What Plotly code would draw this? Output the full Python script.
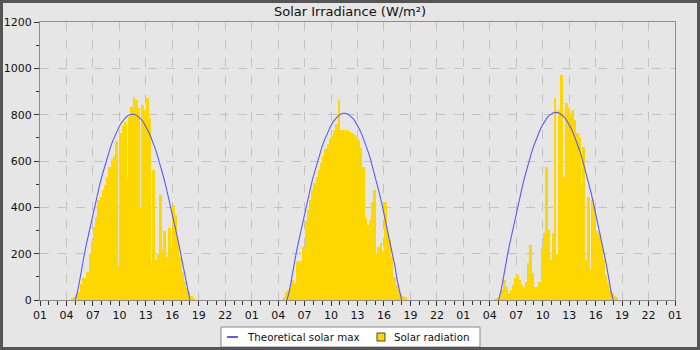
import pandas as pd
import plotly.graph_objects as go

# ---- data ----
days = ["2023-06-20", "2023-06-21", "2023-06-22"]
bar_start = "04:30"      # first 15-min bin of each day
theory_start = "05:00"   # first point of theoretical curve each day
step_minutes = 15

radiation_day1 = [7, 12, 20, 35, 70, 95, 90, 120, 200, 250, 315, 360, 430, 445, 475, 495,
                  530, 575, 610, 620, 685, 145, 720, 750, 770, 530, 790, 835, 875, 865, 830, 395,
                  840, 820, 870, 785, 158, 560, 173, 200, 453, 215, 300, 187, 310, 230, 410, 365,
                  260, 187, 120, 80, 50, 36, 17, 7]
radiation_day2 = [14, 36, 43, 50, 86, 72, 170, 165, 170, 230, 340, 390, 430, 475, 505, 530,
                  560, 590, 620, 650, 675, 700, 710, 735, 760, 865, 735, 735, 727, 735, 727, 720,
                  712, 700, 690, 655, 575, 352, 324, 345, 425, 475, 200, 230, 245, 210, 425, 295,
                  260, 187, 100, 65, 43, 29, 17, 12]
radiation_day3 = [3, 7, 22, 43, 86, 58, 29, 43, 65, 94, 108, 86, 65, 58, 79, 158,
                  237, 115, 58, 58, 79, 230, 288, 575, 302, 173, 288, 870, 200, 820, 970, 532,
                  850, 835, 805, 820, 777, 720, 700, 505, 660, 173, 445, 130, 430, 390, 300, 288,
                  245, 173, 108, 72, 43, 29, 17, 12]

theory_day1 = [0, 35, 85, 144, 192, 239, 284, 329, 373, 415, 455, 495, 532, 567, 601, 632, 661,
               687, 710, 731, 750, 766, 779, 789, 796, 801, 802, 801, 796, 789, 779, 766, 750,
               731, 710, 687, 661, 632, 601, 567, 532, 495, 455, 415, 373, 329, 284, 239, 192,
               144, 85, 35, 0]
theory_day2 = [0, 35, 86, 145, 193, 240, 285, 330, 374, 417, 458, 498, 535, 570, 604, 635, 664,
               690, 714, 735, 754, 770, 783, 793, 800, 805, 806, 805, 800, 793, 783, 770, 754,
               735, 714, 690, 664, 635, 604, 570, 535, 498, 458, 417, 374, 330, 285, 240, 193,
               145, 86, 35, 0]
theory_day3 = [0, 36, 86, 146, 194, 241, 286, 332, 376, 418, 460, 500, 537, 573, 607, 638, 667,
               693, 717, 739, 757, 773, 787, 797, 804, 809, 810, 809, 804, 797, 787, 773, 757,
               739, 717, 693, 667, 638, 607, 573, 537, 500, 460, 418, 376, 332, 286, 241, 194,
               146, 86, 36, 0]

title_text = "Solar Irradiance (W/m²)"
name_theory = "Theoretical solar max"
name_radiation = "Solar radiation"

BAR_COLOR = "#FFD700"
LINE_COLOR = "#5a5aff"

# ---- build series ----
def times_for(day, start, n):
    return list(pd.date_range(f"{day} {start}", periods=n, freq=f"{step_minutes}min"))

bar_x, bar_y, th_x, th_y = [], [], [], []
for d, r, t in zip(days, [radiation_day1, radiation_day2, radiation_day3],
                   [theory_day1, theory_day2, theory_day3]):
    bar_x += times_for(d, bar_start, len(r))
    bar_y += r
    th_x += times_for(d, theory_start, len(t)) + [None]
    th_y += t + [None]

fig = go.Figure()
fig.add_trace(go.Bar(
    x=bar_x, y=bar_y, name=name_radiation,
    width=step_minutes * 60 * 1000 * 1.25, offset=0,
    marker=dict(color=BAR_COLOR, line=dict(width=0)),
    showlegend=False,
))
fig.add_trace(go.Scatter(
    x=th_x, y=th_y, name=name_theory, mode="lines",
    line=dict(color=LINE_COLOR, width=1.1),
    connectgaps=False, showlegend=False,
))

W, H = 700, 350
ml, mr, mt, mb = 40, 25, 22, 50
pw, ph = W - ml - mr, H - mt - mb

def px(xp):  # pixel -> paper x
    return (xp - ml) / pw

def py(yp):  # pixel -> paper y
    return (H - mb - yp) / ph

fig.update_layout(
    width=W, height=H,
    margin=dict(l=ml, r=mr, t=mt, b=mb, pad=0, autoexpand=False),
    paper_bgcolor="#e6e6e6", plot_bgcolor="#e6e6e6",
    font=dict(family="DejaVu Sans", size=11, color="#111111"),
    title=dict(text=title_text, x=0.5, xanchor="center", y=1 - 11 / H, yanchor="middle",
               font=dict(size=13, color="#111111")),
    bargap=0,
    showlegend=False,
)

fig.update_xaxes(
    type="date", automargin=False,
    range=[f"{days[0]} 01:00", pd.Timestamp(f"{days[-1]} 01:00") + pd.Timedelta(days=1)],
    tick0=f"{days[0]} 01:00", dtick=3 * 3600 * 1000, tickformat="%H",
    ticks="outside", ticklen=5, tickcolor="#333333",
    showgrid=True, gridcolor="#c2c2c2", griddash="dash", gridwidth=1,
    showline=True, linecolor="#8c8c8c", linewidth=1, mirror=True,
    minor=dict(dtick=3600 * 1000, ticks="outside", ticklen=4, tickcolor="#333333", showgrid=False),
    zeroline=False,
)
fig.update_yaxes(
    automargin=False,
    range=[0, 1200], dtick=200,
    ticks="outside", ticklen=5, tickcolor="#333333",
    showgrid=True, gridcolor="#c2c2c2", griddash="dash", gridwidth=1,
    showline=True, linecolor="#8c8c8c", linewidth=1, mirror=True,
    minor=dict(dtick=100, ticks="outside", ticklen=3, tickcolor="#333333", showgrid=False),
    zeroline=False,
)

# legend box drawn below the plot
fig.add_shape(type="rect", xref="paper", yref="paper",
              x0=px(221), x1=px(480), y0=py(347), y1=py(327),
              line=dict(color="#888888", width=1), fillcolor="#ffffff", layer="above")
fig.add_shape(type="line", xref="paper", yref="paper",
              x0=px(227), x1=px(238), y0=py(337), y1=py(337),
              line=dict(color=LINE_COLOR, width=2), layer="above")
fig.add_shape(type="rect", xref="paper", yref="paper",
              x0=px(377), x1=px(385), y0=py(341), y1=py(333),
              line=dict(color="#444444", width=1), fillcolor=BAR_COLOR, layer="above")
fig.add_annotation(text=name_theory, xref="paper", yref="paper", x=px(245), y=py(337),
                   xanchor="left", yanchor="middle", showarrow=False,
                   font=dict(size=10.3, color="#111111"))
fig.add_annotation(text=name_radiation, xref="paper", yref="paper", x=px(392), y=py(337),
                   xanchor="left", yanchor="middle", showarrow=False,
                   font=dict(size=10.3, color="#111111"))

# outer frame of the image
fig.add_shape(type="rect", xref="paper", yref="paper",
              x0=px(1.5), x1=px(W - 1.5), y0=py(H - 1.5), y1=py(1.5),
              line=dict(color="#555555", width=3), fillcolor="rgba(0,0,0,0)", layer="above")

fig.write_html("out.html")
